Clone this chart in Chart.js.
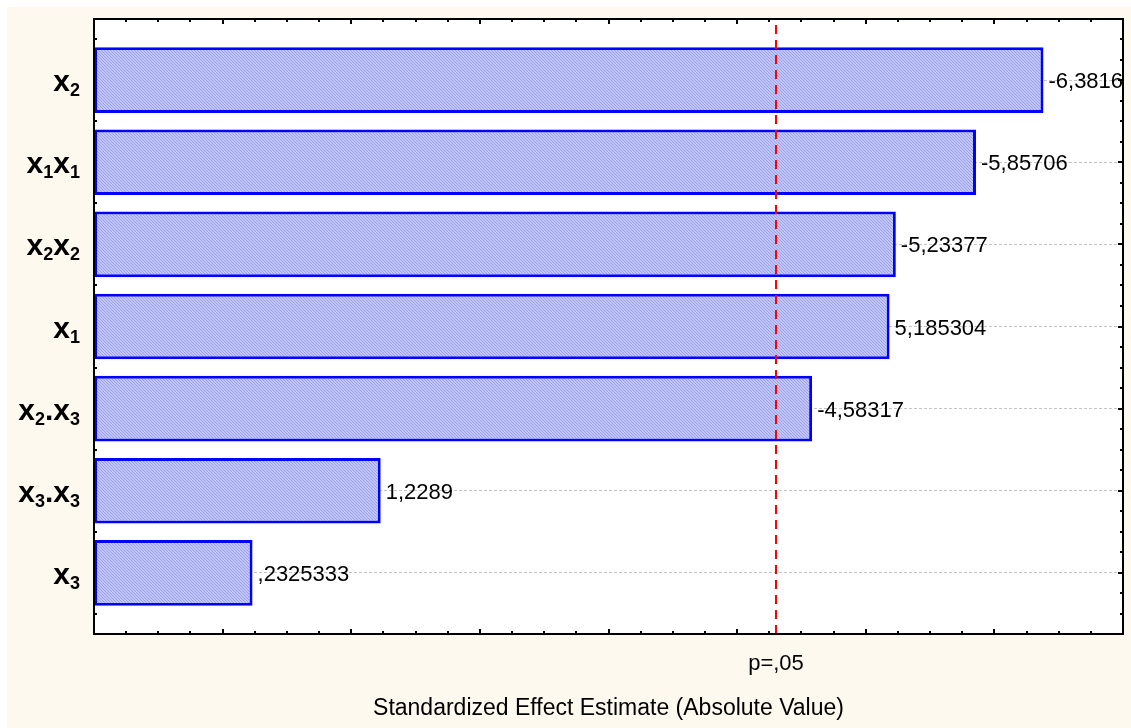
<!DOCTYPE html>
<html>
<head>
<meta charset="utf-8">
<title>Pareto Chart of Standardized Effects</title>
<script src="https://cdn.jsdelivr.net/npm/chart.js@4.4.1/dist/chart.umd.min.js"></script>
<style>
  html, body { margin: 0; padding: 0; background: #ffffff; }
  canvas { display: block; }
</style>
</head>
<body>
<canvas id="pareto" width="1131" height="728"></canvas>
<script>
// Model terms, ordered by effect size (digits are rendered as subscripts)
const categories = ['x2', 'x1x1', 'x2x2', 'x1', 'x2.x3', 'x3.x3', 'x3'];
// Standardized effect estimates (signed); bars show the absolute value
const effects = [-6.3816, -5.85706, -5.23377, 5.185304, -4.58317, 1.2289, 0.2325333];
// Critical t value for p = .05 (two-sided, df = 2)
const criticalT = 4.303;
const criticalLabel = 'p=,05';
const axisTitle = 'Standardized Effect Estimate (Absolute Value)';
// Effect axis range and the padding of the term axis (in term units)
const effectRange = [-1, 7];
const termPad = 0.745;

const FONT = "Arial, 'Liberation Sans', Helvetica, sans-serif";

// Statistica-style number text: comma decimal, no leading zero
function formatEffect(v) {
  return String(v).replace('.', ',').replace(/^(-?)0,/, '$1,');
}

// Fine diagonal hatch used as bar fill
function hatchPattern(ctx) {
  const tile = document.createElement('canvas');
  tile.width = 3; tile.height = 3;
  const g = tile.getContext('2d');
  g.fillStyle = '#c2c6f7';
  g.fillRect(0, 0, 3, 3);
  g.fillStyle = '#9aa0ea';
  for (let i = 0; i < 3; i++) g.fillRect(i, i, 1, 1);
  return ctx.createPattern(tile, 'repeat');
}

function line(ctx, x1, y1, x2, y2) {
  ctx.beginPath();
  ctx.moveTo(x1, y1);
  ctx.lineTo(x2, y2);
  ctx.stroke();
}

// Term label with digits drawn as subscripts, right-aligned at xRight
function drawTermLabel(ctx, text, xRight, yCenter) {
  const mainFont = 'bold 30px ' + FONT;
  const subFont = 'bold 18px ' + FONT;
  const parts = text.split('').map(ch => ({ ch, sub: /[0-9]/.test(ch) }));
  let total = 0;
  parts.forEach(p => {
    ctx.font = p.sub ? subFont : mainFont;
    p.w = ctx.measureText(p.ch).width;
    total += p.w;
  });
  let x = xRight - total;
  ctx.textAlign = 'left';
  ctx.textBaseline = 'alphabetic';
  parts.forEach(p => {
    ctx.font = p.sub ? subFont : mainFont;
    ctx.fillText(p.ch, x, yCenter + (p.sub ? 16 : 11));
    x += p.w;
  });
}

const decorations = {
  id: 'decorations',
  beforeDraw(chart) {
    const { ctx, width, height, chartArea: a } = chart;
    ctx.save();
    ctx.fillStyle = '#ffffff';
    ctx.fillRect(0, 0, width, height);
    ctx.fillStyle = '#fdf9ef';
    ctx.fillRect(7, 7, width - 7, height - 7);
    ctx.fillStyle = '#ffffff';
    ctx.fillRect(a.left, a.top, a.right - a.left, a.bottom - a.top);
    ctx.restore();
  },
  beforeDatasetsDraw(chart) {
    // inward tick marks on all four sides of the frame
    const { ctx, chartArea: a, scales: { x: xs, y: ys } } = chart;
    ctx.save();
    ctx.strokeStyle = '#000000';
    ctx.lineWidth = 2;
    const nx = (effectRange[1] - effectRange[0]) * 4;
    for (let k = 1; k < nx; k++) {
      const v = effectRange[0] + k / 4;
      const px = Math.round(xs.getPixelForValue(v));
      const len = k % 4 === 0 ? 5 : 3;
      line(ctx, px, a.top, px, a.top + len);
      line(ctx, px, a.bottom, px, a.bottom - len);
    }
    for (let k = -2; k <= (categories.length - 1) * 4 + 2; k++) {
      const v = k / 4;
      const py = Math.round(ys.getPixelForValue(v));
      const len = k % 4 === 0 ? 5 : 3;
      line(ctx, a.left, py, a.left + len, py);
      line(ctx, a.right, py, a.right - len, py);
    }
    ctx.restore();
  },
  afterDatasetsDraw(chart) {
    const { ctx, chartArea: a, scales: { x: xs, y: ys } } = chart;
    const meta = chart.getDatasetMeta(0);
    ctx.save();

    // significance threshold
    const px = Math.round(xs.getPixelForValue(criticalT));
    ctx.strokeStyle = '#ff0000';
    ctx.lineWidth = 2;
    ctx.setLineDash([9, 6]);
    ctx.lineDashOffset = 9;
    line(ctx, px, a.top, px, a.bottom);
    ctx.setLineDash([]);

    // value labels at bar ends
    ctx.fillStyle = '#000000';
    ctx.font = '22px ' + FONT;
    ctx.textAlign = 'left';
    ctx.textBaseline = 'alphabetic';
    meta.data.forEach((bar, i) => {
      ctx.fillText(formatEffect(effects[i]), bar.x + 5, bar.y + 8);
    });

    // frame
    ctx.strokeStyle = '#000000';
    ctx.lineWidth = 2;
    ctx.strokeRect(a.left, a.top, a.right - a.left, a.bottom - a.top);

    // term labels
    ctx.fillStyle = '#000000';
    categories.forEach((c, i) => {
      drawTermLabel(ctx, c, a.left - 14, ys.getPixelForValue(i));
    });

    // threshold label
    ctx.font = '22px ' + FONT;
    ctx.textAlign = 'center';
    ctx.textBaseline = 'alphabetic';
    ctx.fillText(criticalLabel, px, a.bottom + 36);
    ctx.restore();
  }
};

const canvas = document.getElementById('pareto');
const ctx = canvas.getContext('2d');

new Chart(ctx, {
  type: 'bar',
  data: {
    datasets: [{
      data: effects.map((e, i) => ({ x: Math.abs(e), y: i })),
      base: effectRange[0],
      backgroundColor: hatchPattern(ctx),
      borderColor: '#0000ff',
      borderWidth: 3,
      borderSkipped: false,
      barPercentage: 0.8,
      categoryPercentage: 1
    }]
  },
  options: {
    indexAxis: 'y',
    responsive: false,
    animation: false,
    events: [],
    layout: { padding: { left: 0, top: 19, right: 8, bottom: 0 } },
    plugins: {
      legend: { display: false },
      tooltip: { enabled: false }
    },
    scales: {
      x: {
        type: 'linear',
        min: effectRange[0],
        max: effectRange[1],
        ticks: { display: false },
        grid: { display: false },
        border: { display: false },
        title: {
          display: true,
          text: axisTitle,
          color: '#000000',
          font: { family: FONT, size: 23 },
          padding: { top: 0, bottom: 6 }
        },
        afterFit(scale) { scale.height = 94; }
      },
      y: {
        type: 'linear',
        reverse: true,
        offset: false,
        min: -termPad,
        max: categories.length - 1 + termPad,
        ticks: { display: false },
        afterBuildTicks(scale) {
          scale.ticks = categories.map((_, i) => ({ value: i }));
        },
        grid: { color: '#c4c4c4', lineWidth: 1, drawTicks: false, offset: false },
        border: { display: false, dash: [3, 2] },
        afterFit(scale) { scale.width = 94; }
      }
    }
  },
  plugins: [decorations]
});
</script>
</body>
</html>
